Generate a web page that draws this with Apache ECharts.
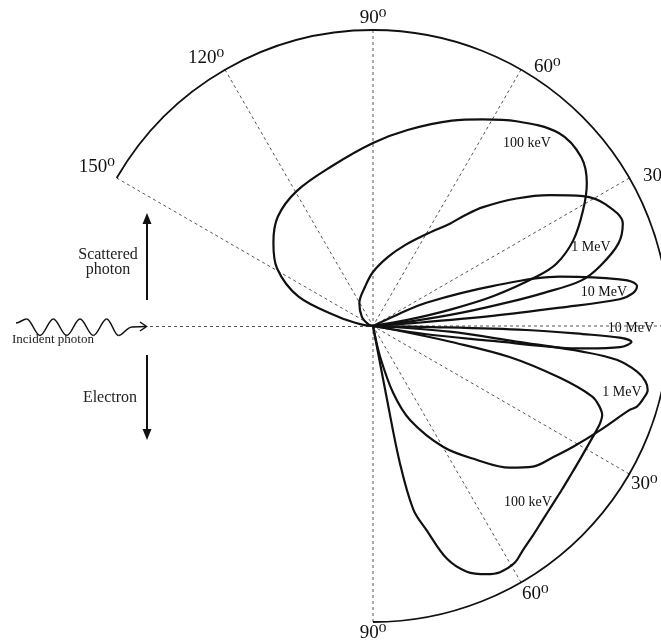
<!DOCTYPE html>
<html>
<head>
<meta charset="utf-8">
<script src="https://cdn.jsdelivr.net/npm/echarts@6/dist/echarts.min.js"></script>
<style>
  html, body { margin: 0; padding: 0; background: #fff; }
  #main { width: 661px; height: 644px; }
</style>
</head>
<body>
<div id="main"></div>
<script>
// angle ticks of the polar frame (degrees, 0 = incident direction)
var angleTicks = [-90, -60, -30, 0, 30, 60, 90, 120, 150];

// scattered photons, [angle in degrees, radius]
var photon100keV = [
  [8, 0], [10, 35], [12, 80], [14, 125], [16.8, 171], [18.8, 194], [23.2, 218],
  [28.9, 240], [33.7, 257], [39, 268], [46, 268], [55, 250], [62, 234], [69, 220],
  [80, 199], [90, 183], [104.5, 165], [119.5, 155], [131, 145], [140, 130],
  [149, 112], [158.5, 80], [165, 36], [172, 12], [178, 0]
];
var photon1MeV = [
  [5, 0], [7, 40], [8.5, 90], [10, 140], [11, 175], [12.3, 213], [14.8, 235],
  [18.6, 259], [22.3, 270], [27.4, 263], [31.7, 247], [36.5, 220], [41.6, 192],
  [47.2, 162], [50.3, 144], [53.1, 128], [59.2, 108], [68.4, 87], [77.5, 71],
  [90, 54], [101.5, 40], [121, 26.5], [140, 14.6], [160, 5], [170, 0]
];
var photon10MeV = [
  [3, 0], [4, 40], [4.8, 120], [5.6, 188], [6.2, 248], [7.2, 262], [8.6, 267],
  [9.8, 262], [10.7, 251], [12.5, 225], [14.8, 193], [18.4, 127], [23.5, 59],
  [25, 28], [27, 0]
];

// recoil electrons (negative angles = below the incident direction)
var electron100keV = [
  [-79.5, 0], [-79.2, 72], [-78.9, 140], [-77.6, 188], [-75.3, 211], [-72.4, 244],
  [-69.1, 263], [-65.4, 273], [-62.7, 277], [-59.1, 276], [-56.2, 269.6],
  [-52.5, 263.3], [-48.8, 257.7], [-45, 253.3], [-41, 250], [-37, 247.6],
  [-33, 246.3], [-28.9, 245.9], [-24.9, 246.7], [-23, 247], [-21.3, 246],
  [-19.5, 240], [-17.8, 230], [-15.5, 194], [-12.8, 140], [-11.5, 79],
  [-10.5, 30], [-10, 0]
];
var electron1MeV = [
  [-2, 0], [-4.2, 77], [-6.2, 144], [-7, 212], [-7.9, 246], [-9.8, 268],
  [-11.5, 278], [-13.1, 282], [-15, 280], [-17, 276], [-18.1, 270], [-24.6, 250],
  [-31, 234], [-36, 223], [-41.3, 213], [-46, 197], [-52.3, 169], [-59.8, 140],
  [-68.5, 101], [-73.2, 70], [-77, 31], [-80, 0]
];
var electron10MeV = [
  [-0.5, 0], [-1, 60], [-1.5, 153], [-2.2, 210], [-2.7, 247], [-3.5, 259],
  [-4.9, 248], [-6, 215], [-6.6, 188], [-7.1, 121], [-8.8, 54], [-10, 0]
];

var serif = '"Liberation Serif", "DejaVu Serif", serif';

function toPolar(list) {
  return list.map(function (p) { return [p[1], p[0]]; });
}

function curve(name, list) {
  return {
    name: name,
    type: 'line',
    coordinateSystem: 'polar',
    polarIndex: 1,
    data: toPolar(list),
    showSymbol: false,
    smooth: 0.35,
    clip: false,
    lineStyle: { color: '#111', width: 2.2 }
  };
}

function label(text, x, y, bg) {
  return {
    type: 'text', x: x, y: y,
    style: {
      text: text, font: '14px ' + serif, fill: '#111',
      align: 'center', verticalAlign: 'middle',
      backgroundColor: bg ? '#fff' : null, padding: bg ? [1, 2] : 0
    }
  };
}

// incident photon wiggle: peaks and troughs of the drawn wave
var wave = [[16, 323], [26.7, 319], [40, 335.5], [53.3, 319], [66.7, 335.5],
  [80, 319], [93.3, 335.5], [106.7, 319], [118.5, 335.5]];
var waveParts = [];
for (var i = 1; i < wave.length; i++) {
  var a = wave[i - 1], b = wave[i], k = (b[0] - a[0]) * 0.36;
  waveParts.push({
    type: 'bezierCurve',
    shape: { x1: a[0], y1: a[1], x2: b[0], y2: b[1], cpx1: a[0] + k, cpy1: a[1], cpx2: b[0] - k, cpy2: b[1] },
    style: { fill: null, stroke: '#111', lineWidth: 1.5 }
  });
}
waveParts.push({
  type: 'bezierCurve',
  shape: { x1: 118.5, y1: 335.5, x2: 132, y2: 327, cpx1: 123, cpy1: 335.5, cpx2: 126, cpy2: 327.5 },
  style: { fill: null, stroke: '#111', lineWidth: 1.5 }
});

var hiddenAxis = {
  axisLine: { show: false }, axisTick: { show: false },
  axisLabel: { show: false }, splitLine: { show: false }
};

var myChart = echarts.init(document.getElementById('main'));

var option = {
  backgroundColor: '#fff',
  animation: false,
  polar: [
    { center: [373, 326], radius: 296 },
    { center: [373, 326], radius: 296 }
  ],
  radiusAxis: [
    Object.assign({ polarIndex: 0, type: 'value', min: 0, max: 296 }, hiddenAxis),
    Object.assign({ polarIndex: 1, type: 'value', min: 0, max: 296 }, hiddenAxis)
  ],
  angleAxis: [
    {
      // the drawn frame: arc from 150 deg round to -90 deg, dotted spokes
      polarIndex: 0,
      type: 'value',
      min: -90, max: 150, interval: 30,
      startAngle: -90, endAngle: 150, clockwise: false,
      axisLine: { lineStyle: { color: '#111', width: 1.8 } },
      axisTick: { show: false },
      axisLabel: {
        margin: 2,
        color: '#111',
        fontFamily: serif,
        fontSize: 19,
        formatter: function (v) {
          if (angleTicks.indexOf(v) < 0 || v === 0) return '';
          var t = Math.abs(v) + '\u2070';
          return (v === 60 || v === 30) ? '{r|' + t + '}' : t;
        },
        rich: {
          r: { fontFamily: serif, fontSize: 19, color: '#111', lineHeight: 2, padding: [0, 0, 0, 12] }
        }
      },
      splitLine: { show: true, lineStyle: { color: '#555', width: 1, type: [3, 3] } }
    },
    Object.assign({
      // full circle for the curves, so nothing gets clamped
      polarIndex: 1,
      type: 'value',
      min: -180, max: 180,
      startAngle: -180, endAngle: 180, clockwise: false
    }, hiddenAxis)
  ],
  series: [
    curve('100 keV photon', photon100keV),
    curve('1 MeV photon', photon1MeV),
    curve('10 MeV photon', photon10MeV),
    curve('100 keV electron', electron100keV),
    curve('1 MeV electron', electron1MeV),
    curve('10 MeV electron', electron10MeV)
  ],
  graphic: waveParts.concat([
    {
      type: 'line', shape: { x1: 132, y1: 327, x2: 146, y2: 326.5 },
      style: { stroke: '#111', lineWidth: 1.5 }
    },
    {
      type: 'polyline',
      shape: { points: [[140, 322], [146.5, 326.5], [140, 331]] },
      style: { fill: null, stroke: '#111', lineWidth: 1.5 }
    },
    {
      type: 'line',
      shape: { x1: 150, y1: 326.5, x2: 373, y2: 326.5 },
      style: { stroke: '#555', lineWidth: 1, lineDash: [3, 3] }
    },
    // arrows
    {
      type: 'line', shape: { x1: 147, y1: 300, x2: 147, y2: 220 },
      style: { stroke: '#111', lineWidth: 2 }
    },
    {
      type: 'polygon', shape: { points: [[147, 213], [142.5, 224], [151.5, 224]] },
      style: { fill: '#111' }
    },
    {
      type: 'line', shape: { x1: 147, y1: 355, x2: 147, y2: 432 },
      style: { stroke: '#111', lineWidth: 2 }
    },
    {
      type: 'polygon', shape: { points: [[147, 440], [142.5, 429], [151.5, 429]] },
      style: { fill: '#111' }
    },
    {
      type: 'text', x: 108, y: 255,
      style: { text: 'Scattered', font: '16px ' + serif, fill: '#222', align: 'center', verticalAlign: 'middle' }
    },
    {
      type: 'text', x: 108, y: 270,
      style: { text: 'photon', font: '16px ' + serif, fill: '#222', align: 'center', verticalAlign: 'middle' }
    },
    {
      type: 'text', x: 12, y: 340,
      style: { text: 'Incident photon', font: '13px ' + serif, fill: '#222', align: 'left', verticalAlign: 'middle' }
    },
    {
      type: 'text', x: 110, y: 398,
      style: { text: 'Electron', font: '16px ' + serif, fill: '#222', align: 'center', verticalAlign: 'middle' }
    },
    // curve labels
    label('100 keV', 527, 143),
    label('1 MeV', 591, 247),
    label('10 MeV', 604, 292),
    label('10 MeV', 631, 328, true),
    label('1 MeV', 622, 392),
    label('100 keV', 528, 502)
  ])
};

myChart.setOption(option);
</script>
</body>
</html>
